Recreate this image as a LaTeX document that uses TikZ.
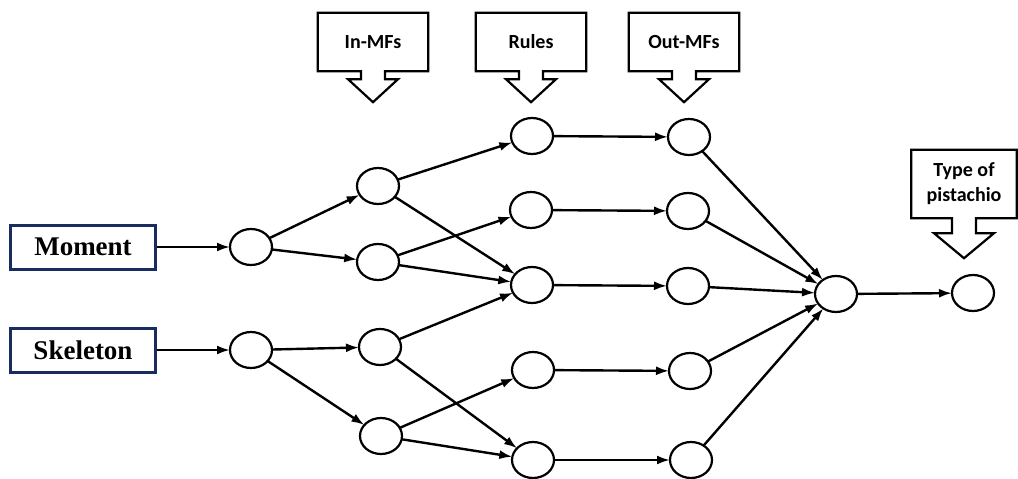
\documentclass[tikz,border=0pt]{standalone}
\usepackage{fontspec}
\usepackage{tkz-graph}
\usetikzlibrary{arrows.meta}
\usetikzlibrary{shapes}
\usetikzlibrary{calc}
\newfontfamily\calfont{Carlito}
\newfontfamily\timesfont{Liberation Serif}
\definecolor{boxblue}{RGB}{24,44,96}

\begin{document}
\begin{tikzpicture}[x = 1pt, y = -1pt]
	\useasboundingbox (0,0) rectangle (1018,479);
	\tikzstyle{VertexStyle} = []
	\tikzset{edgeLine/.style = {-{Latex[length=13pt, width=9pt]}, line width = 2.4pt}}
	\tikzstyle{neuronStyle}=[shape = ellipse, minimum width = 42pt, minimum height = 36pt, inner sep = 0pt, line width = 2.2pt, draw]
	\tikzstyle{inputStyle}=[shape = rectangle, minimum width = 145pt, minimum height = 44pt, line width = 3pt, draw = boxblue, font = \timesfont\bfseries\fontsize{27}{30}\selectfont]
	\tikzstyle{calloutStyle}=[shape = rectangle, minimum width = 110pt, minimum height = 58pt, inner sep = 0pt, align = center, font = \calfont\bfseries\fontsize{20}{25}\selectfont]
	\tikzstyle{calloutLine}=[line width = 2.2pt, line join = miter]
	% inputs
	\node[inputStyle] (moment) at (83,247) {Moment};
	\node[inputStyle] (skeleton) at (83,350) {Skeleton};
	% callouts
	\foreach \nm/\px/\txt in {inmf/373/In-MFs, rules/531/Rules, outmf/684/Out-MFs}{
		\node[calloutStyle] (\nm) at (\px,42) {\txt};
		\draw[calloutLine] (\nm.south west) |- (\nm.north east) |- ($(\nm.south)+(12,0)$) -- ++(0,8) -- ++(13,0) -- ++(-25,23) -- ++(-25,-23) -- ++(13,0) -- ++(0,-8) -- cycle;
	}
	\node[calloutStyle, minimum width = 105pt, minimum height = 68pt] (type) at (964,184) {Type of\\pistachio};
	\draw[calloutLine] (type.south west) |- (type.north east) |- ($(type.south)+(12,0)$) -- ++(0,15) -- ++(18,0) -- ++(-30,25) -- ++(-30,-25) -- ++(18,0) -- ++(0,-15) -- cycle;
	% network
	\Vertex[style = neuronStyle, x = 251, y = 247, NoLabel]{m1}
	\Vertex[style = neuronStyle, x = 251, y = 350, NoLabel]{s1}
	\Vertex[style = neuronStyle, x = 378, y = 186, NoLabel]{a1}
	\Vertex[style = neuronStyle, x = 378, y = 262, NoLabel]{a2}
	\Vertex[style = neuronStyle, x = 380, y = 347, NoLabel]{a3}
	\Vertex[style = neuronStyle, x = 381, y = 436, NoLabel]{a4}
	\Vertex[style = neuronStyle, x = 532, y = 136, NoLabel]{r1}
	\Vertex[style = neuronStyle, x = 531, y = 210, NoLabel]{r2}
	\Vertex[style = neuronStyle, x = 532, y = 285, NoLabel]{r3}
	\Vertex[style = neuronStyle, x = 533, y = 370, NoLabel]{r4}
	\Vertex[style = neuronStyle, x = 533, y = 460, NoLabel]{r5}
	\Vertex[style = neuronStyle, x = 689, y = 137, NoLabel]{o1}
	\Vertex[style = neuronStyle, x = 688, y = 211, NoLabel]{o2}
	\Vertex[style = neuronStyle, x = 688, y = 286, NoLabel]{o3}
	\Vertex[style = neuronStyle, x = 690, y = 371, NoLabel]{o4}
	\Vertex[style = neuronStyle, x = 691, y = 460, NoLabel]{o5}
	\Vertex[style = neuronStyle, x = 836, y = 294, NoLabel]{sum}
	\Vertex[style = neuronStyle, x = 973, y = 293, NoLabel]{out}
	\foreach \u/\v in {moment/m1, skeleton/s1, m1/a1, m1/a2, s1/a3, s1/a4,
		a1/r1, a1/r3, a2/r2, a2/r3, a3/r3, a3/r5, a4/r4, a4/r5,
		r1/o1, r2/o2, r3/o3, r4/o4, r5/o5,
		o1/sum, o2/sum, o3/sum, o4/sum, o5/sum, sum/out}
		\draw[edgeLine] (\u) -- (\v);
\end{tikzpicture}
\end{document}
